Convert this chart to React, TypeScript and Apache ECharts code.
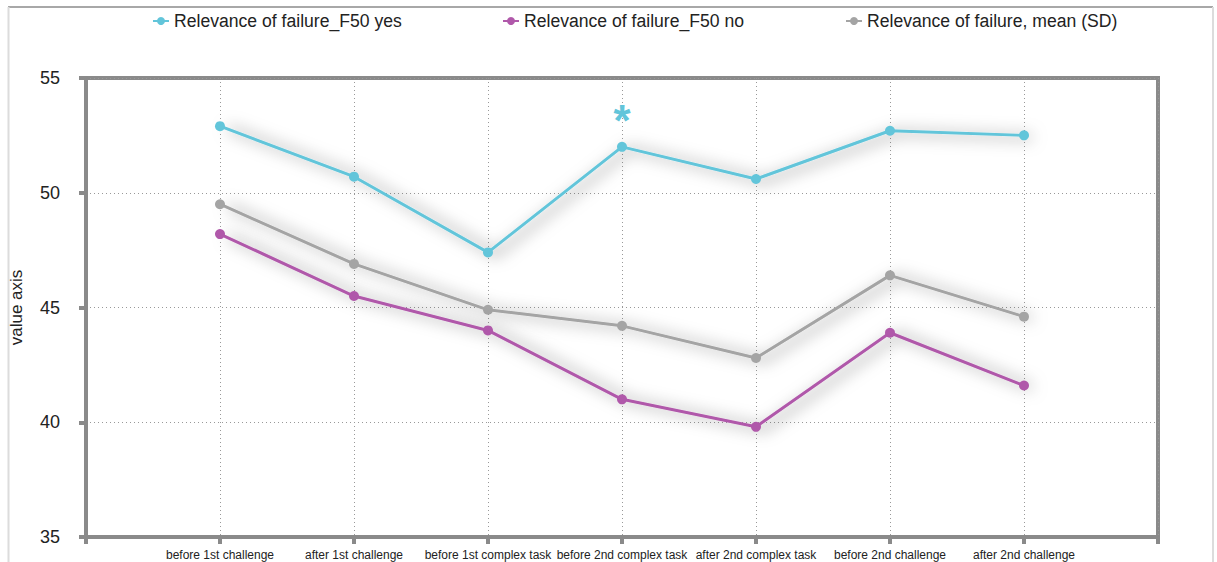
import React, { useEffect, useRef } from "react";
import * as echarts from "echarts";

const categories = [
  "",
  "before 1st challenge",
  "after 1st challenge",
  "before 1st complex task",
  "before 2nd complex task",
  "after 2nd complex task",
  "before 2nd challenge",
  "after 2nd challenge",
  "",
];

const seriesNames = [
  "Relevance of failure_F50 yes",
  "Relevance of failure_F50 no",
  "Relevance of failure, mean (SD)",
];

const yesValues = [null, 52.9, 50.7, 47.4, 52.0, 50.6, 52.7, 52.5, null];
const noValues = [null, 48.2, 45.5, 44.0, 41.0, 39.8, 43.9, 41.6, null];
const meanValues = [null, 49.5, 46.9, 44.9, 44.2, 42.8, 46.4, 44.6, null];

const significantIndex = 4; // "*" marker on F50 yes
const colors = ["#62c5da", "#b058aa", "#a4a4a4"];
const legendLefts = [147, 497, 840];

const FONT = "'Liberation Sans', Arial, Helvetica, sans-serif";

export default function App() {
  const ref = useRef<HTMLDivElement>(null);

  useEffect(() => {
    if (!ref.current) return;
    const chart = echarts.init(ref.current, null, { renderer: "svg" });

    const makeData = (vals: (number | null)[], star: boolean) =>
      vals.map((v, i) => {
        if (star && i === significantIndex) {
          return {
            value: v,
            label: {
              show: true,
              formatter: "*",
              position: "top",
              distance: 2,
              offset: [0, 3],
              fontSize: 44,
              fontWeight: "bold",
              fontFamily: FONT,
              color: colors[0],
            },
          };
        }
        return v;
      });

    const allValues = [yesValues, noValues, meanValues];

    const option: any = {
      animation: false,
      backgroundColor: "#ffffff",
      textStyle: { fontFamily: FONT },
      legend: seriesNames.map((n, i) => ({
        data: [n],
        left: legendLefts[i],
        top: 7,
        itemWidth: 16,
        itemHeight: 10,
        itemGap: 6,
        textStyle: { fontSize: 17.6, color: "#222", fontFamily: FONT },
      })),
      graphic: [
        { type: "line", shape: { x1: 8, y1: 7, x2: 1213, y2: 7 }, style: { stroke: "#a8a8a8", lineWidth: 2 }, silent: true },
        { type: "line", shape: { x1: 8.5, y1: 7, x2: 8.5, y2: 562 }, style: { stroke: "#dcdcdc", lineWidth: 2 }, silent: true },
        { type: "line", shape: { x1: 1213, y1: 7, x2: 1213, y2: 562 }, style: { stroke: "#dcdcdc", lineWidth: 2 }, silent: true },
      ],
      grid: {
        left: 86,
        right: 59,
        top: 78,
        bottom: 25,
        show: true,
        borderColor: "#8a8a8a",
        borderWidth: 4,
        backgroundColor: "transparent",
      },
      xAxis: {
        type: "category",
        data: categories,
        boundaryGap: false,
        axisLine: { show: true, lineStyle: { color: "#8a8a8a", width: 4 } },
        axisTick: { show: true, length: 7, lineStyle: { color: "#8a8a8a", width: 4 } },
        axisLabel: { interval: 0, margin: 12, fontSize: 12, color: "#222", fontFamily: FONT },
        splitLine: { show: true, lineStyle: { color: "#999", type: [1, 3], width: 1 } },
      },
      yAxis: {
        type: "value",
        min: 35,
        max: 55,
        interval: 5,
        name: "value axis",
        nameLocation: "middle",
        nameGap: 61,
        nameTextStyle: { fontSize: 17, color: "#222", fontFamily: FONT },
        axisLine: { show: true, lineStyle: { color: "#8a8a8a", width: 4 } },
        axisTick: { show: true, length: 7, lineStyle: { color: "#8a8a8a", width: 4 } },
        axisLabel: { margin: 26, fontSize: 18, color: "#222", fontFamily: FONT },
        splitLine: { show: true, lineStyle: { color: "#999", type: [1, 3], width: 1 } },
      },
      series: seriesNames.map((n, i) => ({
        name: n,
        type: "line",
        data: makeData(allValues[i], i === 0),
        symbol: "circle",
        symbolSize: 10,
        connectNulls: false,
        color: colors[i],
        itemStyle: { color: colors[i] },
        lineStyle: {
          color: colors[i],
          width: 3,
          shadowColor: "rgba(0,0,0,0.6)",
          shadowBlur: 16,
          shadowOffsetX: 8,
          shadowOffsetY: 2,
        },
        z: 3 - i,
      })),
    };

    chart.setOption(option);
    return () => chart.dispose();
  }, []);

  return (
    <div
      ref={ref}
      style={{ position: "fixed", left: 0, top: 0, width: 1217, height: 562, background: "#fff" }}
    />
  );
}
